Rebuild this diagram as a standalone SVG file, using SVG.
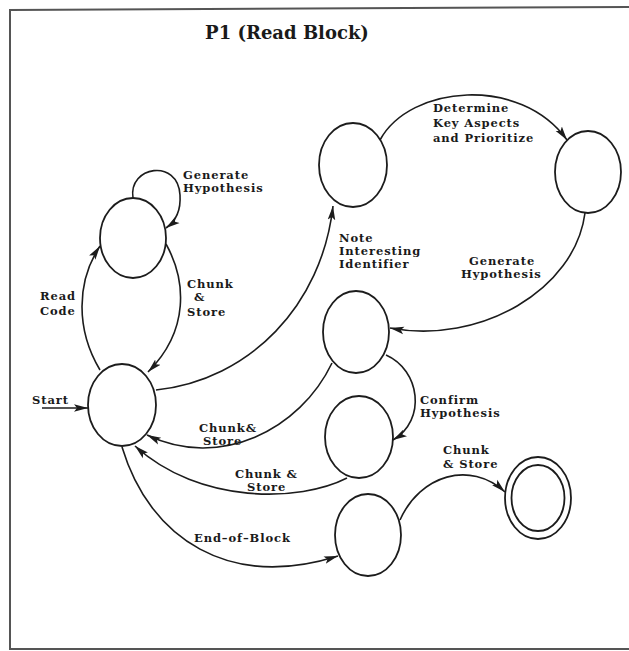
<svg xmlns="http://www.w3.org/2000/svg" width="629" height="651" viewBox="0 0 629 651">
  <style>
    .state { fill: #ffffff; stroke: #1c1c1c; stroke-width: 1.8; }
    .edge { fill: none; stroke: #1c1c1c; stroke-width: 1.6; marker-end: url(#arrow); }
    .lbl { font-family: "DejaVu Serif", "Liberation Serif", serif; font-weight: bold; font-size: 11.5px; letter-spacing: 0.9px; fill: #1a1a1a; }
    .title { font-family: "DejaVu Serif", "Liberation Serif", serif; font-weight: bold; font-size: 18px; fill: #1a1a1a; }
  </style>
  <defs>
    <marker id="arrow" markerUnits="userSpaceOnUse" markerWidth="15" markerHeight="10" viewBox="0 0 15 10" refX="14" refY="5" orient="auto">
      <path d="M0,1.2 L14,5 L0,8.8 L3,5 z" fill="#1c1c1c"/>
    </marker>
  </defs>

  <rect x="0" y="0" width="629" height="651" fill="#ffffff"/>
  <!-- outer frame -->
  <path d="M630,7 L10,10 L10,649 L630,649" fill="none" stroke="#555555" stroke-width="2"/>

  <text class="title" x="287" y="39" text-anchor="middle">P1 (Read Block)</text>

  <!-- states -->
  <g id="hypothesis-state"><ellipse class="state" cx="133" cy="238" rx="33" ry="40"/></g>
  <g id="start-state"><ellipse class="state" cx="122" cy="405" rx="34" ry="41"/></g>
  <g id="identifier-state"><ellipse class="state" cx="353" cy="165" rx="34" ry="42"/></g>
  <g id="prioritize-state"><ellipse class="state" cx="588" cy="172" rx="33" ry="41"/></g>
  <g id="generate-state"><ellipse class="state" cx="356" cy="332" rx="33" ry="41"/></g>
  <g id="confirm-state"><ellipse class="state" cx="359" cy="437" rx="34" ry="41"/></g>
  <g id="end-block-state"><ellipse class="state" cx="368" cy="535" rx="33" ry="41"/></g>
  <g id="final-state">
    <ellipse class="state" cx="538" cy="498" rx="33" ry="41"/>
    <ellipse class="state" cx="538" cy="498" rx="26.5" ry="33"/>
  </g>

  <!-- transitions -->
  <g id="connectors">
    <path class="edge" d="M42,408 L88,408"/>
    <path class="edge" d="M133,198 C128,166 178,158 180,195 C181,210 176,221 166,228"/>
    <path class="edge" d="M100,370 C76,330 76,282 100,246"/>
    <path class="edge" d="M166,244 C186,280 190,330 148,372"/>
    <path class="edge" d="M156,390 C250,380 322,305 333,206"/>
    <path class="edge" d="M380,140 C410,85 520,75 567,140"/>
    <path class="edge" d="M585,213 C575,290 480,345 390,328"/>
    <path class="edge" d="M386,355 C420,370 427,420 393,440"/>
    <path class="edge" d="M332,363 C300,430 220,470 147,435"/>
    <path class="edge" d="M347,478 C300,502 200,505 135,446"/>
    <path class="edge" d="M122,447 C150,540 230,590 338,556"/>
    <path class="edge" d="M400,520 C420,475 470,460 505,492"/>
  </g>

  <!-- transition labels -->
  <g id="labels">
    <text class="lbl" x="32" y="404">Start</text>
    <text class="lbl" x="183" y="179">Generate</text>
    <text class="lbl" x="183" y="192">Hypothesis</text>
    <text class="lbl" x="40" y="300">Read</text>
    <text class="lbl" x="40" y="315">Code</text>
    <text class="lbl" x="187" y="288">Chunk</text>
    <text class="lbl" x="194" y="301">&amp;</text>
    <text class="lbl" x="187" y="316">Store</text>
    <text class="lbl" x="339" y="242">Note</text>
    <text class="lbl" x="339" y="255">Interesting</text>
    <text class="lbl" x="339" y="268">Identifier</text>
    <text class="lbl" x="433" y="112">Determine</text>
    <text class="lbl" x="433" y="127">Key Aspects</text>
    <text class="lbl" x="433" y="142">and Prioritize</text>
    <text class="lbl" x="469" y="265">Generate</text>
    <text class="lbl" x="461" y="278">Hypothesis</text>
    <text class="lbl" x="420" y="404">Confirm</text>
    <text class="lbl" x="420" y="417">Hypothesis</text>
    <text class="lbl" x="199" y="432">Chunk&amp;</text>
    <text class="lbl" x="203" y="445">Store</text>
    <text class="lbl" x="235" y="478">Chunk &amp;</text>
    <text class="lbl" x="247" y="491">Store</text>
    <text class="lbl" x="194" y="542">End–of–Block</text>
    <text class="lbl" x="443" y="454">Chunk</text>
    <text class="lbl" x="443" y="468">&amp; Store</text>
  </g>
</svg>
